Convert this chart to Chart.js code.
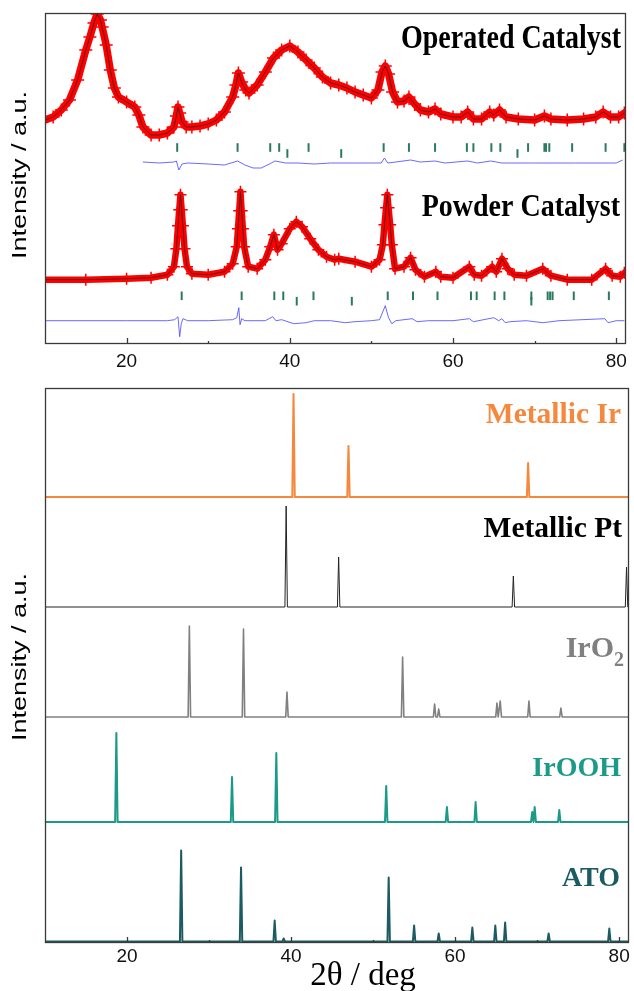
<!DOCTYPE html>
<html>
<head>
<meta charset="utf-8">
<script src="https://cdn.jsdelivr.net/npm/chart.js@4.4.1/dist/chart.umd.min.js"></script>
<style>
html, body { margin: 0; padding: 0; background: #fff; }
#wrap { position: relative; width: 634px; height: 991px; }
canvas { position: absolute; left: 0; }
</style>
</head>
<body>
<div id="wrap">
  <canvas id="topChart" width="634" height="380" style="top:0px"></canvas>
  <canvas id="bottomChart" width="634" height="611" style="top:380px"></canvas>
</div>
<script>
// ---- top panel: refinement of the two catalysts (2theta, intensity a.u.) ----
var opTheta = [10, 11, 12, 13, 14, 15, 15.5, 16, 16.4, 16.8, 17, 17.5, 18, 18.5, 19, 20, 21, 21.5, 22, 23, 24, 25, 25.8, 26.1, 26.3, 26.5, 26.8, 27.3, 28, 29, 30, 31, 32, 33, 33.4, 33.7, 34.1, 34.6, 35, 36, 37, 38, 39, 40, 41, 42, 43, 44, 45, 46, 47, 48, 49, 50, 50.8, 51.3, 51.7, 52.1, 52.6, 53.2, 54, 54.6, 55.3, 56, 57, 57.8, 58.5, 60, 61, 61.8, 62.5, 63.5, 64.5, 65, 65.7, 66.5, 68, 70, 71.2, 72, 74, 76, 77.5, 78.4, 79.3, 80.3, 81];
var opObs = [43, 46, 53, 63, 83, 113, 126, 140, 149, 143, 136, 118, 93, 75, 66, 61, 56, 48, 36, 28, 28, 30, 36, 47, 56, 50, 41, 36, 36, 37, 39, 43, 51, 66, 78, 90, 81, 73, 70, 78, 91, 105, 113, 117, 111, 103, 95, 86, 80, 78, 75, 71, 68, 65, 73, 91, 97, 89, 71, 61, 62, 66, 59, 53, 51, 54, 49, 46, 46, 51, 44, 44, 51, 48, 53, 46, 44, 43, 47, 44, 43, 44, 46, 51, 46, 46, 50];
var opDiffTheta = [22, 24, 25.8, 26.1, 26.4, 26.8, 27.5, 30, 32, 33.6, 34.5, 35.5, 36.5, 37.5, 38.2, 39.5, 41, 43, 45, 48, 51.2, 51.6, 52, 53, 54.8, 56, 57.8, 59, 61.8, 63, 64.6, 66, 70, 75, 80, 80.8];
var opDiff = [1, 0, 1, 2, -7, -1, 0, -1, -2, 2, -2, -5, -5, -1, 2, 0, 0, -1, 0, 0, 0, 5, 0, 1, 3, 1, 2, 0, 2, 0, 2, 0, 0, 0, 0, 3];
var opRowA = [26.2, 33.6, 37.6, 38.7, 42.3, 51.5, 54.6, 57.8, 61.7, 62.5, 64.7, 65.8, 69.2, 71.2, 71.4, 71.8, 74.6, 78.7, 81.0];
var opRowB = [39.7, 46.3, 67.9];

var pwTheta = [10, 15, 20, 23, 25, 25.8, 26.1, 26.3, 26.45, 26.6, 26.75, 26.9, 27.1, 27.4, 28, 30, 32, 33, 33.5, 33.65, 33.8, 33.95, 34.1, 34.25, 34.4, 34.9, 36, 37, 37.6, 38.05, 38.5, 39, 40, 40.8, 41.5, 42.5, 43.5, 44.5, 45.5, 46, 48, 50, 51, 51.4, 51.6, 51.8, 51.95, 52.1, 52.3, 52.5, 52.9, 54, 54.8, 55.4, 56.5, 57.9, 58.5, 60, 62, 62.6, 63.5, 64.8, 65.3, 66, 66.7, 67.5, 69, 71, 72, 74, 77, 78.7, 79.5, 80.5, 81];
var pwObs = [41, 41, 42, 43, 46, 54, 72, 95, 111, 126, 111, 95, 72, 54, 47, 46, 49, 57, 74, 92, 110, 129, 110, 92, 74, 54, 52, 61, 74, 86, 71, 77, 92, 99, 94, 82, 71, 64, 61, 62, 59, 54, 61, 76, 96, 113, 126, 113, 96, 76, 52, 54, 63, 51, 44, 49, 44, 43, 54, 46, 45, 54, 49, 62, 52, 46, 45, 52, 45, 41, 41, 52, 45, 44, 48];
var pwDiffTheta = [10, 20, 25, 25.9, 26.3, 26.5, 26.7, 26.9, 27.5, 30, 33, 33.5, 33.75, 33.9, 34.1, 34.5, 37, 37.9, 38.3, 39, 40.5, 42, 43, 45, 46.8, 48, 50, 51, 51.7, 52.1, 52.5, 53, 55, 55.6, 57, 60, 62, 62.5, 65, 65.6, 66, 66.4, 67, 69, 71, 73, 78.6, 79, 80, 81];
var pwDiff = [0, 0, 0, 1, 4, -16, -3, 2, 0, 0, 1, 3, 13, -4, 2, 0, 0, 4, 0, 1, -3, -2, 0, 0, -2, -1, 0, 1, 15, 3, -3, 0, 2, -1, 0, 0, 2, -1, 3, 0, 2, -2, -1, 0, -2, 0, 2, -2, 0, 0];
var pwRowA = [26.75, 34.1, 38.1, 39.2, 42.9, 52.0, 55.1, 58.1, 62.2, 62.9, 65.1, 66.3, 69.6, 71.6, 71.9, 72.2, 74.8, 79.1];
var pwRowB = [40.85, 47.6, 69.6];

// ---- bottom panel: reference patterns (peak 2theta, height a.u.) ----
var irPos = [40.3, 47.0, 68.9];
var irInt = [103, 51, 34];
var ptPos = [39.4, 45.8, 67.1, 80.9];
var ptInt = [101, 50, 31, 40];
var iro2Pos = [27.6, 34.2, 39.5, 53.6, 57.5, 58.0, 65.1, 65.5, 69.0, 72.9];
var iro2Int = [91, 88, 25, 60, 13, 8, 14, 16, 16, 9];
var iroohPos = [18.7, 32.8, 38.2, 51.6, 59.0, 62.5, 69.4, 69.7, 72.7];
var iroohInt = [89, 45, 69, 36, 15, 20, 10, 15, 12];
var atoPos = [26.6, 33.9, 38.0, 39.1, 51.9, 55.0, 58.0, 62.1, 64.9, 66.1, 71.4, 78.8];
var atoInt = [91, 74, 21, 3, 64, 16, 8, 14, 16, 19, 8, 13];

var xLabels = [20, 40, 60, 80];
var xTicks = [20, 30, 40, 50, 60, 70, 80];

// layout offsets (axis units)
var OP_BASE = 181, PW_BASE = 23.3;
var OP_ROW_A = 196.5, OP_ROW_B = 190.5, PW_ROW_A = 48.2, PW_ROW_B = 42.8;
var BASE = { ir: 446, pt: 336, iro2: 226, irooh: 121, ato: 1.5 };

function pts(xs, ys, off) {
  return xs.map(function (x, i) { return { x: x, y: ys[i] + off }; });
}
function row(xs, y) {
  return xs.map(function (x) { return { x: x, y: y }; });
}
function sticks(pos, hts, base, hw) {
  var d = [{ x: 10, y: base }];
  pos.forEach(function (p, i) {
    d.push({ x: p - hw, y: base }, { x: p, y: base + hts[i] }, { x: p + hw, y: base });
  });
  d.push({ x: 81.2, y: base });
  return d;
}

var frame = {
  id: 'frame',
  afterDraw: function (chart, args, o) {
    var ctx = chart.ctx, a = chart.chartArea, xs = chart.scales.x;
    ctx.save();
    ctx.strokeStyle = '#3a3a3a';
    ctx.lineWidth = 1.3;
    ctx.strokeRect(a.left + 0.5, a.top + 0.5, a.right - a.left - 1, a.bottom - a.top - 1);
    xTicks.forEach(function (v) {
      var px = Math.round(xs.getPixelForValue(v)) + 0.5;
      var len = v % 20 === 0 ? 6 : 3;
      ctx.beginPath();
      ctx.moveTo(px, a.bottom);
      ctx.lineTo(px, a.bottom - len);
      ctx.stroke();
    });
    (o.texts || []).forEach(function (t) {
      ctx.save();
      ctx.translate(t.x, t.y);
      if (t.rot) ctx.rotate(t.rot);
      ctx.scale(t.sx || 1, t.sy || 1);
      ctx.font = t.font;
      ctx.fillStyle = t.color;
      ctx.textBaseline = t.baseline || 'alphabetic';
      if (t.sub) {
        ctx.textAlign = 'right';
        ctx.font = t.subFont;
        var sw = ctx.measureText(t.sub).width;
        ctx.fillText(t.sub, 0, 9);
        ctx.font = t.font;
        ctx.fillText(t.text, -sw, 0);
      } else {
        ctx.textAlign = t.align || 'right';
        ctx.fillText(t.text, 0, 0);
      }
      ctx.restore();
    });
    ctx.restore();
  }
};

function xScale(h, pad) {
  return {
    type: 'linear', min: 10, max: 81.2,
    grid: { display: false, drawTicks: false },
    border: { display: false },
    afterFit: function (s) { s.height = h; },
    afterBuildTicks: function (s) {
      s.ticks = xLabels.map(function (v) { return { value: v }; });
    },
    ticks: {
      autoSkip: false, maxRotation: 0, padding: pad,
      color: '#111', font: { family: 'Liberation Sans', size: 19 }
    }
  };
}

var serifBold = 'bold 28px "Liberation Serif"';
var yTitleFont = '20px "Liberation Sans"';
var obsLine = { borderColor: '#ff0000', pointStyle: 'cross', pointBorderColor: '#ff0000', pointBorderWidth: 1.5, borderJoinStyle: 'round', borderCapStyle: 'round' };
var tickMark = { showLine: false, pointStyle: 'line', rotation: 90, pointRadius: 4.3, pointBorderWidth: 2, pointBorderColor: '#2b7a5e' };

new Chart(document.getElementById('topChart'), {
  type: 'line',
  plugins: [frame],
  data: {
    datasets: [
      { data: pts(opTheta, opObs, OP_BASE), borderColor: '#222', borderWidth: 0.7, pointRadius: 0 },
      { data: pts(pwTheta, pwObs, PW_BASE), borderColor: '#222', borderWidth: 0.7, pointRadius: 0 },
      { data: pts(opDiffTheta, opDiff, OP_BASE), borderColor: 'rgba(70,70,255,0.9)', borderWidth: 0.9, pointRadius: 0 },
      { data: pts(pwDiffTheta, pwDiff, PW_BASE), borderColor: 'rgba(70,70,255,0.9)', borderWidth: 0.9, pointRadius: 0 },
      Object.assign({ data: row(opRowA, OP_ROW_A) }, tickMark),
      Object.assign({ data: row(opRowB, OP_ROW_B) }, tickMark),
      Object.assign({ data: row(pwRowA, PW_ROW_A) }, tickMark),
      Object.assign({ data: row(pwRowB, PW_ROW_B) }, tickMark),
      Object.assign({ data: pts(opTheta, opObs, OP_BASE), borderWidth: 7.5, pointRadius: 6.5 }, obsLine),
      Object.assign({ data: pts(pwTheta, pwObs, PW_BASE), borderWidth: 6.5, pointRadius: 6 }, obsLine)
    ]
  },
  options: {
    responsive: false, animation: false,
    layout: { padding: { left: 45, right: 5, top: 13, bottom: 0 } },
    elements: { line: { tension: 0, borderJoinStyle: 'round' } },
    plugins: {
      legend: { display: false }, tooltip: { enabled: false },
      frame: {
        texts: [
          { text: 'Operated Catalyst', x: 621, y: 48, font: serifBold, color: '#000', sy: 1.2 },
          { text: 'Powder Catalyst', x: 620, y: 216, font: serifBold, color: '#000', sy: 1.15 },
          { text: 'Intensity / a.u.', x: 20, y: 175, rot: -Math.PI / 2, sx: 1.35, font: yTitleFont, color: '#000', align: 'center', baseline: 'middle' }
        ]
      }
    },
    scales: {
      x: xScale(36, 6),
      y: { display: false, min: 0, max: 331 }
    }
  }
});

new Chart(document.getElementById('bottomChart'), {
  type: 'line',
  plugins: [frame],
  data: {
    datasets: [
      { data: sticks(irPos, irInt, BASE.ir, 0.15), borderColor: '#f5883c', borderWidth: 2, pointRadius: 0 },
      { data: sticks(ptPos, ptInt, BASE.pt, 0.15), borderColor: '#222', borderWidth: 1, pointRadius: 0 },
      { data: sticks(iro2Pos, iro2Int, BASE.iro2, 0.15), borderColor: '#808080', borderWidth: 1.6, pointRadius: 0 },
      { data: sticks(iroohPos, iroohInt, BASE.irooh, 0.15), borderColor: '#1b9a88', borderWidth: 2, pointRadius: 0 },
      { data: sticks(atoPos, atoInt, BASE.ato, 0.15), borderColor: '#1c5b62', borderWidth: 2, pointRadius: 0 }
    ]
  },
  options: {
    responsive: false, animation: false,
    layout: { padding: { left: 45, right: 5, top: 8, bottom: 0 } },
    elements: { line: { tension: 0, borderJoinStyle: 'round' } },
    plugins: {
      legend: { display: false }, tooltip: { enabled: false },
      frame: {
        texts: [
          { text: 'Metallic Ir', x: 621, y: 43, font: 'bold 29.5px "Liberation Serif"', color: '#f5883c' },
          { text: 'Metallic Pt', x: 622, y: 157, font: 'bold 29.5px "Liberation Serif"', color: '#000' },
          { text: 'IrO', sub: '2', subFont: 'bold 20px "Liberation Serif"', x: 624, y: 277, font: 'bold 30px "Liberation Serif"', color: '#808080' },
          { text: 'IrOOH', x: 621, y: 396, font: serifBold, color: '#1b9a88' },
          { text: 'ATO', x: 620, y: 506, font: serifBold, color: '#1c5b62' },
          { text: 'Intensity / a.u.', x: 20, y: 277, rot: -Math.PI / 2, sx: 1.35, font: yTitleFont, color: '#000', align: 'center', baseline: 'middle' },
          { text: '2θ / deg', x: 363, y: 605, font: '33px "Liberation Serif"', color: '#000', align: 'center' }
        ]
      }
    },
    scales: {
      x: xScale(48, 2),
      y: { display: false, min: 0, max: 555 }
    }
  }
});
</script>
</body>
</html>
